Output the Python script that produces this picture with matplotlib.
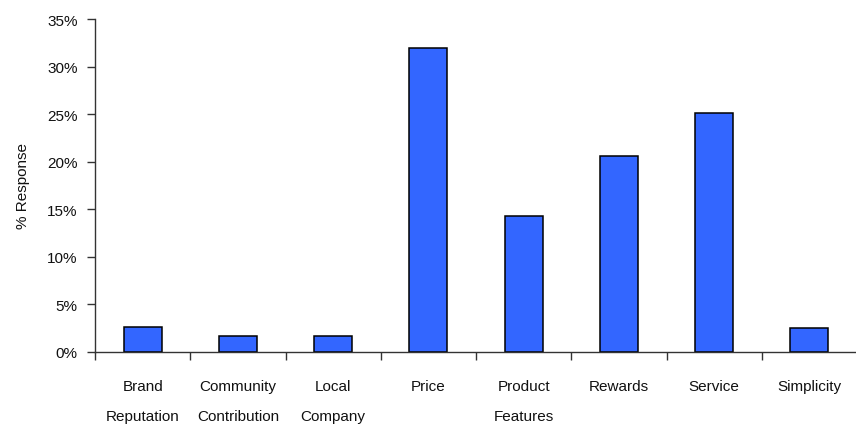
import numpy as np
import matplotlib.pyplot as plt
from matplotlib.ticker import FixedLocator, PercentFormatter

plt.rcParams['font.family'] = ['Liberation Sans', 'DejaVu Sans']

categories = ['Brand\nReputation', 'Community\nContribution', 'Local\nCompany', 'Price',
              'Product\nFeatures', 'Rewards', 'Service', 'Simplicity']
responses = [2.6, 1.7, 1.7, 31.9, 14.3, 20.6, 25.1, 2.5]

fig = plt.figure(figsize=(8.56, 4.27), dpi=100)
ax = fig.add_axes([95/856, (427-352.7)/427, 762/856, (352.7-20)/427])

x = np.arange(len(categories))
ax.bar(x, responses, width=0.4, color='#3366FF', edgecolor='black', linewidth=1.1)

ax.set_xlim(-0.5, len(categories) - 0.5)
ax.set_ylim(0, 35)
ax.set_yticks(np.arange(0, 36, 5))
ax.yaxis.set_major_formatter(PercentFormatter(decimals=0))

# tick marks sit between categories, labels sit under the bars
ax.xaxis.set_major_locator(FixedLocator(np.arange(-0.5, len(categories), 1.0)))
ax.xaxis.set_minor_locator(FixedLocator(x))
ax.set_xticklabels([], minor=False)
ax.set_xticklabels(categories, minor=True, linespacing=2.4)
ax.tick_params(axis='x', which='minor', length=0, pad=20, labelsize=11, colors='#111111')
ax.tick_params(axis='x', which='major', length=5.5, width=1, color='#333333')
ax.tick_params(axis='y', length=5.5, width=1, pad=7, labelsize=11, color='#333333', labelcolor='#111111')

for side in ('top', 'right'):
    ax.spines[side].set_visible(False)
for side in ('left', 'bottom'):
    ax.spines[side].set_color('#333333')
    ax.spines[side].set_linewidth(1)

ax.set_ylabel('% Response', fontsize=11, color='#111111', labelpad=12)

fig.savefig('out.png', dpi=100)
